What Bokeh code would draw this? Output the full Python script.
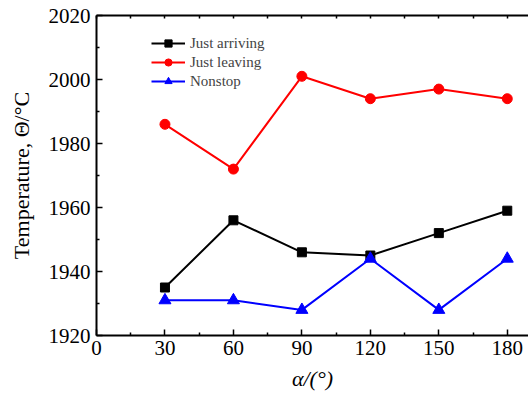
from bokeh.embed import file_html
from bokeh.models import FixedTicker, LinearAxis, Range1d
from bokeh.plotting import figure
from bokeh.resources import INLINE

# Temperature vs. angle for three running conditions
angles = [30, 60, 90, 120, 150, 180]
just_arriving = [1935, 1956, 1946, 1945, 1952, 1959]
just_leaving = [1986, 1972, 2001, 1994, 1997, 1994]
nonstop = [1931, 1931, 1928, 1944, 1928, 1944]

x_major = [0, 30, 60, 90, 120, 150, 180]
x_minor = [15, 45, 75, 105, 135, 165]
y_major = [1920, 1940, 1960, 1980, 2000, 2020]
y_minor = [1930, 1950, 1970, 1990, 2010]

FONT = "Times"

p = figure(
    width=528, height=403,
    output_backend="svg", toolbar_location=None,
    x_range=Range1d(0, 189.3), y_range=Range1d(1920, 2020),
    min_border_left=96, min_border_right=0,
    min_border_top=15, min_border_bottom=68,
)
p.outline_line_color = None
p.grid.visible = False

xa = p.xaxis[0]
xa.ticker = FixedTicker(ticks=x_major, minor_ticks=x_minor)
ya = p.yaxis[0]
ya.ticker = FixedTicker(ticks=y_major, minor_ticks=y_minor)
for ax in (xa, ya):
    ax.axis_line_width = 2
    ax.axis_line_color = "black"
    ax.major_tick_in = 6
    ax.major_tick_out = 0
    ax.minor_tick_in = 3
    ax.minor_tick_out = 0
    ax.major_tick_line_width = 1.5
    ax.minor_tick_line_width = 1.5
    ax.major_label_text_font = FONT
    ax.major_label_text_font_size = "21px"
    ax.major_label_text_color = "black"
    ax.axis_label_text_font = FONT
    ax.axis_label_text_font_size = "22px"
    ax.axis_label_text_color = "black"
xa.major_label_standoff = 5
ya.major_label_standoff = 6

ya.axis_label = "Temperature, Θ/°C"
ya.axis_label_text_font_style = "normal"
ya.axis_label_standoff = 12
xa.axis_label = "α/(°)"
xa.axis_label_text_font_style = "italic"
xa.axis_label_standoff = 8

# mirrored top spine with small inward ticks and no labels
top_ticks = sorted(x_major + x_minor)
top = LinearAxis(
    ticker=FixedTicker(ticks=top_ticks, minor_ticks=[]),
    axis_line_width=2, major_tick_in=3, major_tick_out=0,
    minor_tick_in=0, minor_tick_out=0, major_tick_line_width=1.5,
    major_label_overrides={t: "" for t in top_ticks},
    major_label_standoff=0,
)
p.add_layout(top, "above")

series = [
    ("Just arriving", just_arriving, "black", "square", 9),
    ("Just leaving", just_leaving, "#ff0000", "circle", 10),
    ("Nonstop", nonstop, "#0000ff", "triangle", 12),
]
for name, vals, color, marker, size in series:
    p.line(angles, vals, line_color=color, line_width=2, legend_label=name)
    p.scatter(angles, vals, marker=marker, size=size, fill_color=color,
              line_color=color, legend_label=name)

lg = p.legend[0]
lg.location = (55, 245)
lg.border_line_color = None
lg.background_fill_alpha = 0
lg.padding = 0
lg.margin = 0
lg.spacing = 1
lg.glyph_width = 34
lg.glyph_height = 18
lg.label_height = 18
lg.label_standoff = 5
lg.label_text_font = FONT
lg.label_text_font_size = "15px"

open("out.html", "w").write(file_html(p, INLINE))
